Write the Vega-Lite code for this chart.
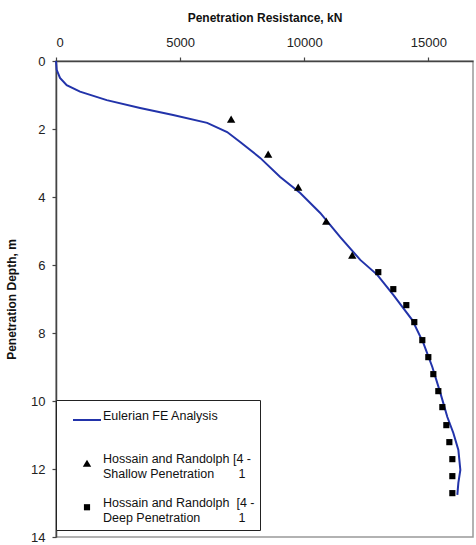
{
  "$schema": "https://vega.github.io/schema/vega-lite/v6.json",
  "width": 417,
  "height": 476,
  "autosize": {"type": "none"},
  "padding": {"left": 56, "top": 61, "right": 3, "bottom": 8},
  "background": "white",
  "config": {
    "font": "Liberation Sans",
    "view": {"stroke": "#999", "strokeWidth": 1.5},
    "axis": {"grid": false, "domainColor": "#444", "domainWidth": 1.5, "tickColor": "#444", "tickWidth": 1.2, "tickSize": 4, "labelFont": "Liberation Sans", "labelFontSize": 13, "labelColor": "#222", "titleFont": "Liberation Sans", "titleFontSize": 12, "titleFontWeight": "bold", "titleColor": "#111"},
    "legend": {"title": null, "orient": "none", "legendX": 0, "legendY": 339, "strokeColor": "#222", "fillColor": "white", "padding": 5, "symbolOffset": 11, "labelFont": "Liberation Sans", "labelFontSize": 12.5, "labelColor": "#111", "labelOffset": 1, "labelBaseline": "alphabetic", "rowPadding": 16, "labelLimit": 300}
  },
  "datasets": {
    "fe": [
      {"resistance": 0, "depth": 0},
      {"resistance": 28, "depth": 0.26},
      {"resistance": 161, "depth": 0.5},
      {"resistance": 431, "depth": 0.71},
      {"resistance": 968, "depth": 0.9},
      {"resistance": 2044, "depth": 1.15},
      {"resistance": 3387, "depth": 1.38},
      {"resistance": 4718, "depth": 1.59},
      {"resistance": 6089, "depth": 1.82},
      {"resistance": 6895, "depth": 2.09},
      {"resistance": 7419, "depth": 2.38},
      {"resistance": 8226, "depth": 2.85},
      {"resistance": 9032, "depth": 3.41},
      {"resistance": 9839, "depth": 3.88},
      {"resistance": 10645, "depth": 4.47},
      {"resistance": 11452, "depth": 5.18},
      {"resistance": 12258, "depth": 5.85},
      {"resistance": 12944, "depth": 6.29},
      {"resistance": 13589, "depth": 6.88},
      {"resistance": 14355, "depth": 7.62},
      {"resistance": 14798, "depth": 8.29},
      {"resistance": 15161, "depth": 9.0},
      {"resistance": 15484, "depth": 9.76},
      {"resistance": 15766, "depth": 10.47},
      {"resistance": 16008, "depth": 10.94},
      {"resistance": 16210, "depth": 11.44},
      {"resistance": 16290, "depth": 12.03},
      {"resistance": 16210, "depth": 12.41},
      {"resistance": 16169, "depth": 12.76}
    ],
    "exp": [
      {"series": "Shallow", "resistance": 7056, "depth": 1.71},
      {"series": "Shallow", "resistance": 8548, "depth": 2.74},
      {"series": "Shallow", "resistance": 9758, "depth": 3.71},
      {"series": "Shallow", "resistance": 10887, "depth": 4.71},
      {"series": "Shallow", "resistance": 11935, "depth": 5.71},
      {"series": "Deep", "resistance": 12984, "depth": 6.21},
      {"series": "Deep", "resistance": 13589, "depth": 6.71},
      {"series": "Deep", "resistance": 14113, "depth": 7.18},
      {"series": "Deep", "resistance": 14435, "depth": 7.68},
      {"series": "Deep", "resistance": 14758, "depth": 8.21},
      {"series": "Deep", "resistance": 15000, "depth": 8.71},
      {"series": "Deep", "resistance": 15202, "depth": 9.21},
      {"series": "Deep", "resistance": 15403, "depth": 9.71},
      {"series": "Deep", "resistance": 15565, "depth": 10.18},
      {"series": "Deep", "resistance": 15726, "depth": 10.71},
      {"series": "Deep", "resistance": 15847, "depth": 11.21},
      {"series": "Deep", "resistance": 15968, "depth": 11.71},
      {"series": "Deep", "resistance": 15968, "depth": 12.21},
      {"series": "Deep", "resistance": 15968, "depth": 12.71}
    ]
  },
  "layer": [
    {
      "data": {"name": "fe"},
      "mark": {"type": "line", "color": "#2233aa", "strokeWidth": 2},
      "encoding": {
        "x": {"field": "resistance", "type": "quantitative", "scale": {"domain": [0, 16800], "nice": false}, "axis": {"orient": "top", "title": "Penetration Resistance, kN", "values": [0, 5000, 10000, 15000], "format": "d", "labelPadding": 8, "titlePadding": 12}},
        "y": {"field": "depth", "type": "quantitative", "scale": {"domain": [0, 14], "reverse": true, "nice": false}, "axis": {"title": "Penetration Depth, m", "values": [0, 2, 4, 6, 8, 10, 12, 14], "labelPadding": 7, "titlePadding": 12}},
        "order": {"field": "depth", "type": "quantitative"}
      }
    },
    {
      "data": {"name": "exp"},
      "mark": {"type": "point", "filled": true, "opacity": 1},
      "encoding": {
        "x": {"field": "resistance", "type": "quantitative"},
        "y": {"field": "depth", "type": "quantitative"},
        "color": {"field": "series", "type": "nominal", "scale": {"domain": ["Eulerian FE Analysis", "Shallow", "Deep"], "range": ["#2233aa", "#000000", "#000000"]},
          "legend": {
            "labelExpr": "datum.value === 'Eulerian FE Analysis' ? ['Eulerian FE Analysis', ''] : datum.value === 'Shallow' ? ['Hossain and Randolph [4 -', 'Shallow Penetration\u00a0\u00a0\u00a0\u00a0\u00a0\u00a0\u00a01'] : ['Hossain and Randolph\u00a0\u00a0[4 -', 'Deep Penetration\u00a0\u00a0\u00a0\u00a0\u00a0\u00a0\u00a0\u00a0\u00a0\u00a0\u00a01']"
          }
        },
        "stroke": {"field": "series", "type": "nominal", "scale": {"domain": ["Eulerian FE Analysis", "Shallow", "Deep"], "range": ["#2233aa", "#000000", "#000000"]}},
        "shape": {"field": "series", "type": "nominal", "scale": {"domain": ["Eulerian FE Analysis", "Shallow", "Deep"], "range": ["stroke", "triangle-up", "square"]}},
        "size": {"field": "series", "type": "nominal", "scale": {"type": "ordinal", "domain": ["Eulerian FE Analysis", "Shallow", "Deep"], "range": [784, 70, 38]}},
        "strokeWidth": {"field": "series", "type": "nominal", "scale": {"type": "ordinal", "domain": ["Eulerian FE Analysis", "Shallow", "Deep"], "range": [2, 0, 0]}}
      }
    }
  ]
}
